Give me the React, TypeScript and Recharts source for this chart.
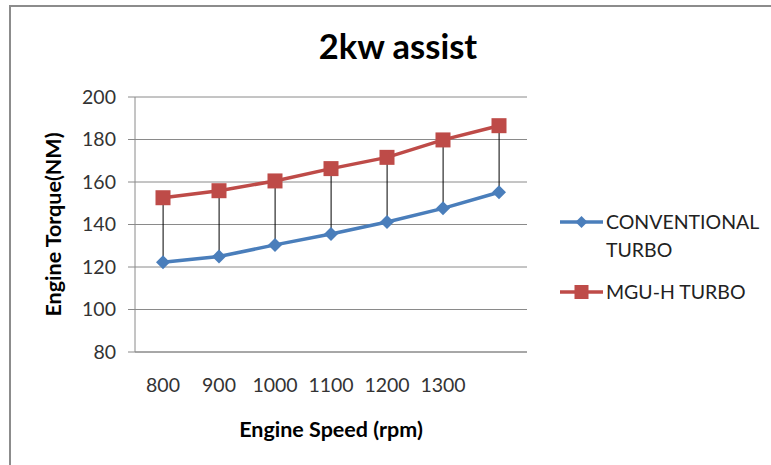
import { ComposedChart, Line, Bar, XAxis, YAxis, CartesianGrid, Legend } from "recharts";

// values
const speeds = [800, 900, 1000, 1100, 1200, 1300, 1400];
const xTickLabels = ["800", "900", "1000", "1100", "1200", "1300", ""];
const conventionalTurbo = [122.2, 124.9, 130.4, 135.5, 141.2, 147.6, 155.2];
const mguHTurbo = [152.6, 155.9, 160.5, 166.3, 171.6, 179.8, 186.5];
const yTicks = [80, 100, 120, 140, 160, 180, 200];

const BLUE = "#4A7EBB";
const RED = "#BE4B48";
const GRID = "#8a8a8a";
const FONT = "Lato, 'Open Sans', sans-serif";

const data = speeds.map((s, i) => ({
  speed: s,
  conventional: conventionalTurbo[i],
  mguh: mguHTurbo[i],
}));

const diamond = (cx: number, cy: number, r: number) =>
  `M${cx},${cy - r} L${cx + r},${cy} L${cx},${cy + r} L${cx - r},${cy} Z`;

const BlueDot = (p: any) => (
  <path key={`b-${p.index}`} d={diamond(p.cx, p.cy, 7)} fill={BLUE} />
);

const RedDot = (p: any) => (
  <rect key={`r-${p.index}`} x={p.cx - 7.5} y={p.cy - 7.5} width={15} height={15} fill={RED} />
);

// high-low line between the two series
const DropLine = (p: any) => {
  const cx = p.x + p.width / 2;
  const top = Math.min(p.y, p.y + p.height);
  const bottom = Math.max(p.y, p.y + p.height);
  return <line x1={cx} y1={top} x2={cx} y2={bottom} stroke="#000" strokeWidth={1} />;
};

const renderLegend = (props: any) => {
  const items = (props.payload || []).filter((e: any) => e.type !== "none");
  return (
    <div style={{ fontFamily: FONT, fontSize: 19.5, color: "#222" }}>
      {items.map((e: any) => (
        <div key={e.value} style={{ display: "flex", alignItems: "flex-start", marginBottom: 14 }}>
          <svg width={46} height={28} style={{ flex: "none" }}>
            <line x1={2} y1={14} x2={45} y2={14} stroke={e.color} strokeWidth={3.5} />
            {e.dataKey === "conventional" ? (
              <path d={diamond(23.5, 14, 6)} fill={e.color} />
            ) : (
              <rect x={16.5} y={7} width={14} height={14} fill={e.color} />
            )}
          </svg>
          <div style={{ width: 165, lineHeight: "28px", marginLeft: 2 }}>{e.value}</div>
        </div>
      ))}
    </div>
  );
};

export default function App() {
  return (
    <div
      style={{
        position: "fixed",
        left: 0,
        top: 0,
        width: 771,
        height: 465,
        overflow: "hidden",
        background: "#fff",
        fontFamily: FONT,
      }}
    >
      <div
        style={{
          position: "absolute",
          left: 9,
          top: 5,
          width: 800,
          height: 500,
          border: "2px solid #8c8c8c",
        }}
      />
      <div
        style={{
          position: "absolute",
          left: 248,
          width: 300,
          top: 25,
          textAlign: "center",
          fontSize: 34.5,
          fontWeight: 700,
          color: "#000",
        }}
      >
        2kw assist
      </div>
      <div style={{ position: "absolute", left: 0, top: 0 }}>
        <ComposedChart
          width={771}
          height={465}
          data={data}
          margin={{ top: 97, right: 244, bottom: 83, left: 0 }}
        >
          <CartesianGrid vertical={false} stroke={GRID} />
          <XAxis
            dataKey="speed"
            height={30}
            tickLine={false}
            axisLine={{ stroke: GRID }}
            tickSize={0}
            tickMargin={26}
            tickFormatter={(_v: any, i: number) => xTickLabels[i]}
            tick={{ fill: "#333", fontSize: 19.5, fontFamily: FONT }}
            label={{
              value: "Engine Speed (rpm)",
              position: "bottom",
              offset: 40,
              style: { fontWeight: 700, fontSize: 21.5, fill: "#000", fontFamily: FONT },
            }}
          />
          <YAxis
            width={135}
            domain={[80, 200]}
            ticks={yTicks}
            interval={0}
            axisLine={{ stroke: GRID }}
            tickLine={{ stroke: GRID }}
            tickSize={7}
            tickMargin={12}
            tick={{ fill: "#333", fontSize: 19.5, fontFamily: FONT }}
            label={{
              value: "Engine Torque(NM)",
              angle: -90,
              position: "insideLeft",
              offset: 53,
              style: { textAnchor: "middle", fontWeight: 700, fontSize: 21.5, fill: "#000", fontFamily: FONT },
            }}
          />
          <Bar
            dataKey={(d: any) => [d.conventional, d.mguh]}
            shape={DropLine}
            legendType="none"
            isAnimationActive={false}
          />
          <Line
            dataKey="conventional"
            name="CONVENTIONAL TURBO"
            stroke={BLUE}
            strokeWidth={3.5}
            dot={BlueDot}
            activeDot={false}
            isAnimationActive={false}
          />
          <Line
            dataKey="mguh"
            name="MGU-H TURBO"
            stroke={RED}
            strokeWidth={3.5}
            dot={RedDot}
            activeDot={false}
            isAnimationActive={false}
          />
          <Legend
            layout="vertical"
            align="center"
            verticalAlign="middle"
            wrapperStyle={{ left: 558, top: 208, width: 212 }}
            content={renderLegend}
          />
        </ComposedChart>
      </div>
    </div>
  );
}
